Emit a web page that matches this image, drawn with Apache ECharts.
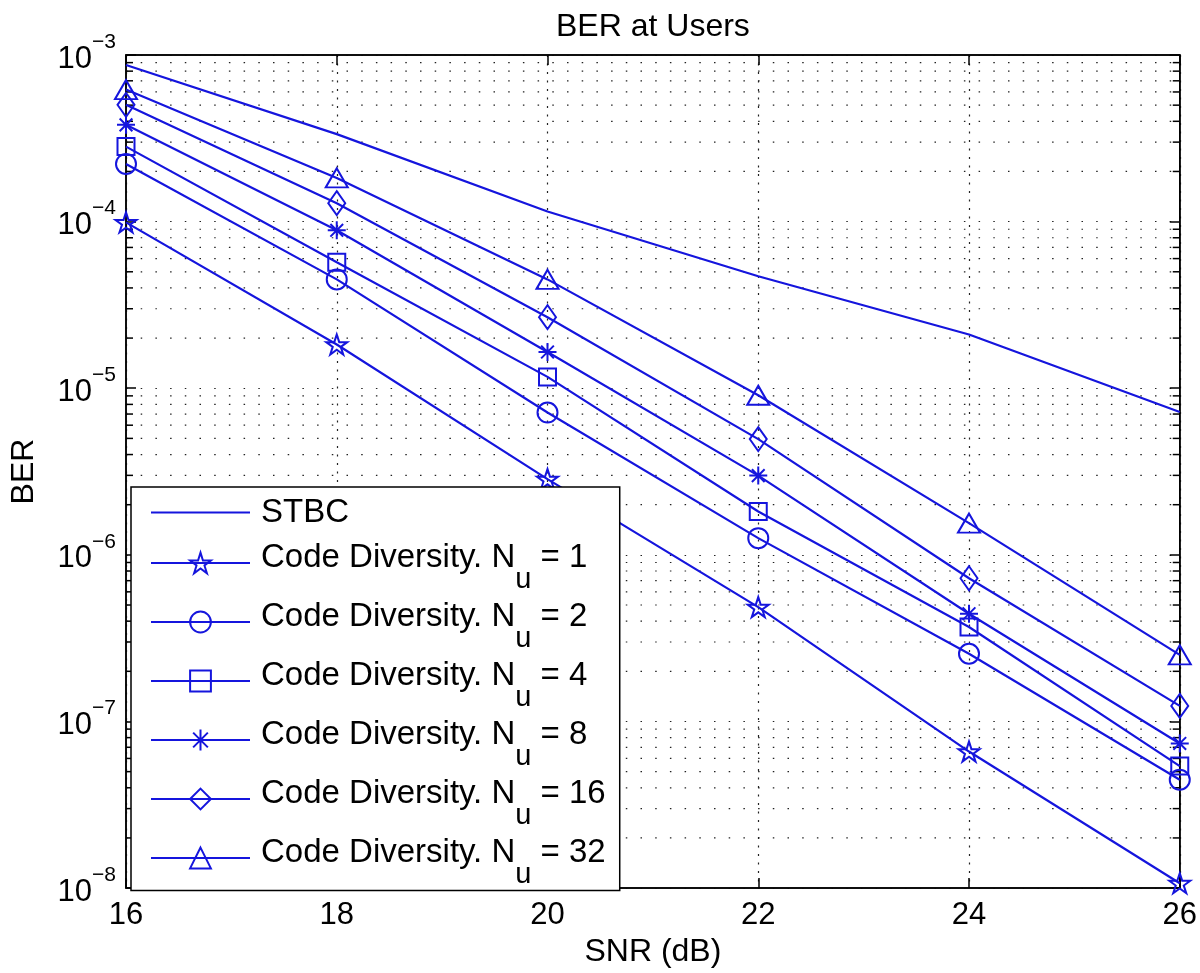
<!DOCTYPE html>
<html><head><meta charset="utf-8">
<script src="https://cdn.jsdelivr.net/npm/echarts@6/dist/echarts.min.js"></script>
<style>html,body{margin:0;padding:0;background:#fff}#c{width:1200px;height:973px}</style>
</head><body><div id="c"></div>
<script>
// ---- data ----
const snr = [16, 18, 20, 22, 24, 26];
const stbc = [8.7e-4, 3.35e-4, 1.15e-4, 4.7e-5, 2.1e-5, 7.2e-6];
const nu1  = [9.9e-5, 1.83e-5, 2.85e-6, 4.86e-7, 6.6e-8, 1.07e-8];
const nu2  = [2.22e-4, 4.5e-5, 7.15e-6, 1.26e-6, 2.55e-7, 4.47e-8];
const nu4  = [2.82e-4, 5.7e-5, 1.17e-5, 1.82e-6, 3.69e-7, 5.4e-8];
const nu8  = [3.81e-4, 8.87e-5, 1.65e-5, 2.99e-6, 4.43e-7, 7.38e-8];
const nu16 = [5.02e-4, 1.29e-4, 2.67e-5, 4.95e-6, 7.24e-7, 1.24e-7];
const nu32 = [6.2e-4, 1.83e-4, 4.5e-5, 9.08e-6, 1.55e-6, 2.51e-7];
const seriesNames = ['STBC', 'Code Diversity. Nu = 1', 'Code Diversity. Nu = 2', 'Code Diversity. Nu = 4',
  'Code Diversity. Nu = 8', 'Code Diversity. Nu = 16', 'Code Diversity. Nu = 32'];
const xMin = 16, xMax = 26, xInterval = 2;
const yMin = 1e-8, yMax = 1e-3;
const minorMantissas = [2, 3, 4, 5, 6, 7, 8, 9];
const decadeExponents = [-8, -7, -6, -5, -4];

// ---- styles ----
const BLUE = '#1515dd';
const FONT = "'Liberation Sans', Arial, Helvetica, sans-serif";
const PENTAGRAM = 'path://M0,-10L2.245,-3.09L9.511,-3.09L3.633,1.18L5.878,8.09L0,3.82L-5.878,8.09L-3.633,1.18L-9.511,-3.09L-2.245,-3.09Z';
const ASTERISK = 'path://M0,-10L0,10M-10,0L10,0M-7.07,-7.07L7.07,7.07M-7.07,7.07L7.07,-7.07';
const markers = [
  {symbol: 'none', size: 0},
  {symbol: PENTAGRAM, size: [21, 20]},
  {symbol: 'circle', size: 20},
  {symbol: 'rect', size: 17},
  {symbol: ASTERISK, size: 18},
  {symbol: 'diamond', size: [17, 24]},
  {symbol: 'triangle', size: [22, 19]}
];
const allData = [stbc, nu1, nu2, nu4, nu8, nu16, nu32];

// text measuring (for sub/superscript placement)
const mctx = document.createElement('canvas').getContext('2d');
function textW(str, size) { mctx.font = size + 'px ' + FONT; return mctx.measureText(str).width; }
const LEG_FS = 33, SUB_FS = 29, TICK_FS = 31, SUP_FS = 21;
const prefixW = 6 + textW('Code Diversity. N', LEG_FS);
const subW = textW('u', SUB_FS);
const supW = textW('\u22123', SUP_FS);

const minorVals = [];
decadeExponents.forEach(e => minorMantissas.forEach(m => minorVals.push(m * Math.pow(10, e))));

const lineSeries = allData.map((arr, i) => ({
  type: 'line',
  name: seriesNames[i],
  data: snr.map((x, j) => [x, arr[j]]),
  symbol: markers[i].symbol,
  symbolSize: markers[i].size,
  showSymbol: i !== 0,
  z: 3,
  lineStyle: {color: BLUE, width: 2.2},
  itemStyle: {color: 'rgba(255,255,255,0)', borderColor: BLUE, borderWidth: 2},
  emphasis: {disabled: true},
  animation: false
}));

const minorSeries = {
  type: 'custom',
  name: 'minorGrid',
  silent: true,
  z: 1,
  animation: false,
  data: minorVals.map(v => [xMin, v]),
  encode: {x: 0, y: 1},
  renderItem: function (params, api) {
    const v = api.value(1);
    const p1 = api.coord([xMin, v]);
    const p2 = api.coord([xMax, v]);
    return {
      type: 'group',
      children: [
        {type: 'line', shape: {x1: p1[0], y1: p1[1], x2: p2[0], y2: p2[1]},
         style: {stroke: '#222', lineWidth: 1.2, lineDash: [1.5, 13.2]}},
        {type: 'line', shape: {x1: p1[0], y1: p1[1], x2: p1[0] + 7, y2: p1[1]},
         style: {stroke: '#000', lineWidth: 1.5}},
        {type: 'line', shape: {x1: p2[0], y1: p2[1], x2: p2[0] - 7, y2: p2[1]},
         style: {stroke: '#000', lineWidth: 1.5}}
      ]
    };
  }
};

const legendFormatter = name => {
  const m = name.match(/^(.*N)u( = \d+)$/);
  if (m) return '{a0|' + m[1] + '}{g| }{a|' + m[2] + '}\n{ind| }{sub|u}';
  return '{sp| }\n{st|' + name + '}\n{sp| }';
};

const yLabelFormatter = v => {
  const e = Math.round(Math.log10(v));
  return '{s|\u2212' + Math.abs(e) + '}\n{b|10}{sw| }';
};

const legendData = seriesNames.map((n, i) => i === 0
  ? {name: n, itemStyle: {opacity: 0, borderWidth: 0, color: 'rgba(0,0,0,0)', borderColor: 'rgba(0,0,0,0)'}}
  : {name: n});

const chart = echarts.init(document.getElementById('c'), null, {renderer: 'canvas'});
chart.setOption({
  animation: false,
  backgroundColor: '#fff',
  title: {
    text: 'BER at Users',
    left: 556, top: 11, padding: 0,
    textStyle: {fontFamily: FONT, fontSize: 32, fontWeight: 'normal', color: '#000'}
  },
  grid: {left: 122, right: 17, top: 55, bottom: 83, show: true, borderColor: '#000', borderWidth: 1.5, backgroundColor: '#fff'},
  legend: {
    data: legendData,
    orient: 'vertical',
    left: 131, top: 487,
    padding: [2.5, 14, 1, 19],
    itemGap: 6,
    itemWidth: 99,
    itemHeight: 26,
    backgroundColor: '#fff',
    borderColor: '#000',
    borderWidth: 1.5,
    selectedMode: false,
    formatter: legendFormatter,
    textStyle: {
      fontFamily: FONT, fontSize: LEG_FS, color: '#000',
      rich: {
        sp: {fontFamily: FONT, fontSize: 6, lineHeight: 7, color: '#000'},
        st: {fontFamily: FONT, fontSize: LEG_FS, lineHeight: 33, padding: [0, 0, 0, 6], color: '#000'},
        a0: {fontFamily: FONT, fontSize: LEG_FS, lineHeight: 34, padding: [0, 0, 0, 6], color: '#000'},
        a: {fontFamily: FONT, fontSize: LEG_FS, lineHeight: 34, color: '#000'},
        g: {fontFamily: FONT, fontSize: LEG_FS, lineHeight: 34, width: subW, color: '#000'},
        ind: {fontFamily: FONT, fontSize: 10, lineHeight: 10, width: prefixW, color: '#000'},
        sub: {fontFamily: FONT, fontSize: SUB_FS, lineHeight: 10, color: '#000'}
      }
    }
  },
  xAxis: [{
    type: 'value', min: xMin, max: xMax, interval: xInterval,
    name: 'SNR (dB)', nameLocation: 'middle', nameGap: 44,
    nameTextStyle: {fontFamily: FONT, fontSize: 32, color: '#000'},
    axisLine: {show: true, lineStyle: {color: '#000', width: 1.5}},
    axisTick: {show: true, inside: true, length: 10, lineStyle: {color: '#000', width: 1.5}},
    axisLabel: {fontFamily: FONT, fontSize: TICK_FS, color: '#000', margin: 12},
    splitLine: {show: true, lineStyle: {color: '#222', width: 1.2, type: [2, 6.5]}}
  }, {
    type: 'value', min: xMin, max: xMax, interval: xInterval, position: 'top',
    axisLine: {show: true, lineStyle: {color: '#000', width: 1.5}},
    axisTick: {show: true, inside: true, length: 10, lineStyle: {color: '#000', width: 1.5}},
    axisLabel: {show: false}, splitLine: {show: false}
  }],
  yAxis: [{
    type: 'log', logBase: 10, min: yMin, max: yMax,
    name: 'BER', nameLocation: 'middle', nameGap: 86,
    nameTextStyle: {fontFamily: FONT, fontSize: 32, color: '#000'},
    axisLine: {show: true, lineStyle: {color: '#000', width: 1.5}},
    axisTick: {show: true, inside: true, length: 10, lineStyle: {color: '#000', width: 1.5}},
    axisLabel: {
      margin: 10, formatter: yLabelFormatter,
      rich: {
        s: {fontFamily: FONT, fontSize: SUP_FS, lineHeight: 8, color: '#000'},
        b: {fontFamily: FONT, fontSize: TICK_FS, lineHeight: 26, color: '#000'},
        sw: {fontFamily: FONT, fontSize: 10, lineHeight: 26, width: supW, color: '#000'}
      }
    },
    splitLine: {show: true, lineStyle: {color: '#222', width: 1.2, type: [1.5, 13.2]}}
  }, {
    type: 'log', logBase: 10, min: yMin, max: yMax, position: 'right',
    axisLine: {show: true, lineStyle: {color: '#000', width: 1.5}},
    axisTick: {show: true, inside: true, length: 10, lineStyle: {color: '#000', width: 1.5}},
    axisLabel: {show: false}, splitLine: {show: false}
  }],
  series: [minorSeries].concat(lineSeries)
});
</script>
</body></html>
